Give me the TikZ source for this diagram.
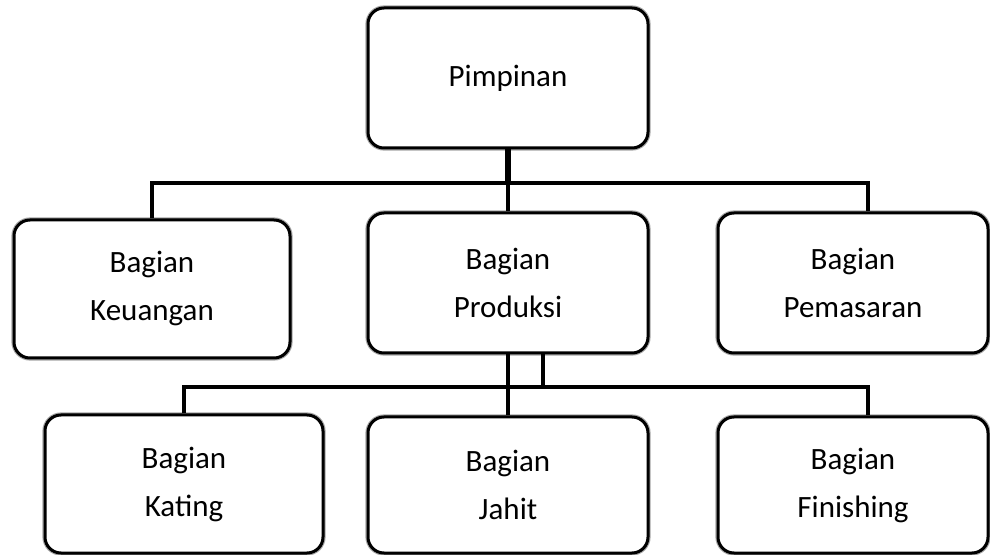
\documentclass[tikz,border=0pt]{standalone}
\usepackage{fontspec}
\setmainfont{Carlito}
\usetikzlibrary{positioning}

\tikzset{
  unit/.style={draw=black, line width=1.5pt, rounded corners=8pt, fill=white,
    minimum width=140pt, minimum height=70pt, inner sep=0pt, align=center,
    font=\fontsize{15.5}{24}\selectfont,
    preaction={draw=black!35, line width=2.6pt}},
  conn/.style={line width=2pt},
}

\begin{document}
\begin{tikzpicture}[x=0.5pt, y=-0.5pt]

        \useasboundingbox (0,0) rectangle (990,555);

        % top level
        \node[unit] (Pimpinan) at (508,78) {Pimpinan};

        % second level
        \node[unit, minimum width=138pt, minimum height=69pt] (Keuangan) at (152,289) {Bagian\\Keuangan};
        \node[unit] (Produksi) at (508,283) {Bagian\\Produksi};
        \node[unit, minimum width=135pt] (Pemasaran) at (853,283) {Bagian\\Pemasaran};

        % third level
        \node[unit, minimum width=139pt, minimum height=69pt] (Kating) at (184,484) {Bagian\\Kating};
        \node[unit, minimum height=68pt] (Jahit) at (508,485) {Bagian\\Jahit};
        \node[unit, minimum width=135pt, minimum height=68pt] (Finishing) at (853,485) {Bagian\\Finishing};

        \coordinate (BusTop) at (508,183);
        \coordinate (BusLow) at (508,387);

        % connectors
        \draw[line width=3pt] (Pimpinan.south) -- (BusTop);
        \draw[conn] (Keuangan.north) |- (BusTop) -| ([xshift=7.5pt]Pemasaran.north);
        \draw[conn] (BusTop) -- (Produksi.north);

        \draw[conn] (Produksi.south) -- (Jahit.north);
        \draw[conn] ([xshift=17.5pt]Produksi.south) |- (BusLow);
        \draw[conn] (Kating.north) |- (BusLow) -| ([xshift=7.5pt]Finishing.north);

      \end{tikzpicture}
\end{document}
